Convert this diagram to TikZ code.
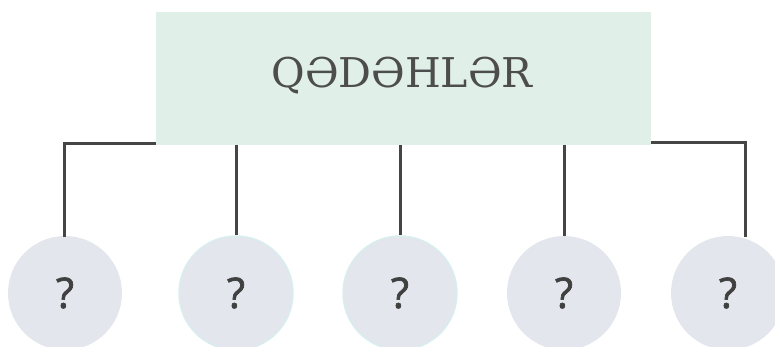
\documentclass[tikz,border=0pt]{standalone}
\usepackage{fontspec}
\setmainfont{DejaVu Serif}
\newfontfamily\qfont[FakeBold=1.6]{Open Sans}
\begin{document}
\begin{tikzpicture}[x=1pt,y=-1pt,
  link/.style={draw=linegray,line width=3pt},
  leaf/.style={circle,fill=leafgray,minimum size=114pt,inner sep=0pt,
    font=\qfont\fontsize{42}{42}\selectfont,text=qgray},
  rim/.style={draw=rimteal,line width=1.5pt}]
\definecolor{linegray}{HTML}{454545}
\definecolor{leafgray}{HTML}{E3E6EC}
\definecolor{rimteal}{HTML}{D9EEEE}
\definecolor{boxgreen}{HTML}{E0F0E8}
\definecolor{qgray}{HTML}{404040}
\definecolor{titlegray}{HTML}{4D4D4D}
\useasboundingbox (0,0) rectangle (775,347);
% connectors first, box and circles on top
\coordinate (b1) at (156,144);
\coordinate (k1) at (64,144);
\coordinate (b5) at (651,143);
\coordinate (k5) at (745,143);
\node[leaf] (c1) at (65,293) {?};
\node[leaf,rim] (c2) at (236,293) {?};
\node[leaf,rim] (c3) at (400,293) {?};
\node[leaf] (c4) at (564,293) {?};
\node[leaf] (c5) at (728,293) {?};
\coordinate (t1) at (64,237);
\coordinate (t5) at (745,237);
\draw[link] (b1) -- (k1) -- (t1);
\draw[link] (236,140) -- (c2.north);
\draw[link] (400,140) -- (c3.north);
\draw[link] (564,140) -- (c4.north);
\draw[link] (b5) -- (k5) -- (t5);
\node[fill=boxgreen,minimum width=495pt,minimum height=133pt,inner sep=0pt] (top) at (403.5,78.5) {};
\node[text=titlegray,font=\fontsize{41}{41}\selectfont] (title) at (402,76) {QƏDƏHLƏR};
\end{tikzpicture}
\end{document}
